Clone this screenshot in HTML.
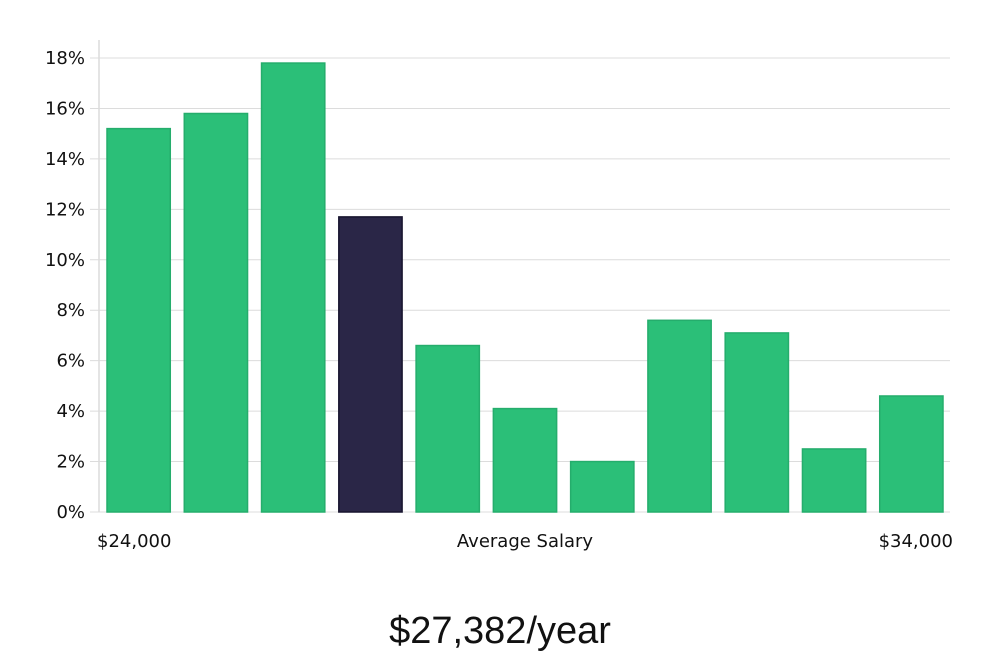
<!DOCTYPE html>
<html><head><meta charset="utf-8"><style>
body{margin:0;background:#fff;width:1000px;height:660px;overflow:hidden;font-family:"DejaVu Sans","Liberation Sans",sans-serif;}
</style></head><body>
<svg id="chart" width="1000" height="600" style="position:absolute;left:0;top:0"></svg>
<div style="position:absolute;left:0;width:1000px;top:610px;text-align:center;font-size:38px;color:#111;font-family:'Liberation Sans',sans-serif;font-weight:300">$27,382/year</div>
<script>
const categories=["b1","b2","b3","b4","b5","b6","b7","b8","b9","b10","b11"];
const values=[15.2,15.8,17.8,11.7,6.6,4.1,2.0,7.6,7.1,2.5,4.6];
const highlight=[false,false,false,true,false,false,false,false,false,false,false];
const yTicks=[0,2,4,6,8,10,12,14,16,18];
const NS="http://www.w3.org/2000/svg";
const svg=document.getElementById('chart');
const x0=100,x1=950,y0=512,yTop=58,yMaxVal=18;
const y=v=>y0-(v/yMaxVal)*(y0-yTop);
const slot=(x1-x0)/categories.length;
const bx=i=>x0+i*slot+7;
const bw=slot-14;
function mk(t,a){const e=document.createElementNS(NS,t);for(const k in a)e.setAttribute(k,a[k]);svg.appendChild(e);return e;}
yTicks.forEach(t=>{
 const g=mk('line',{x1:90,x2:950,y1:y(t),y2:y(t),stroke:'#dcdcdc','stroke-width':1});
 
 
 const l=mk('text',{x:85,y:y(t)+6,'text-anchor':'end','font-size':18,fill:'#111'});
 l.textContent=t+'%';
 
 
});
const ax=mk('line',{x1:99,x2:99,y1:40,y2:512,stroke:'#dcdcdc','stroke-width':1.5});


values.forEach((v,i)=>{
 const r=mk('rect',{x:bx(i),y:y(v),width:bw,height:y0-y(v),fill:highlight[i]?'#2a2647':'#2bbf78',stroke:highlight[i]?'#17142e':'#25ad6c','stroke-width':1.5});
 
 
});
[["$24,000",97,'start'],["Average Salary",525,'middle'],["$34,000",953,'end']].forEach(([t,xx,a])=>{
 const e=mk('text',{x:xx,y:547,'text-anchor':a,'font-size':18,fill:'#111'});
 e.textContent=t;
 
 
});
</script>
</body></html>
